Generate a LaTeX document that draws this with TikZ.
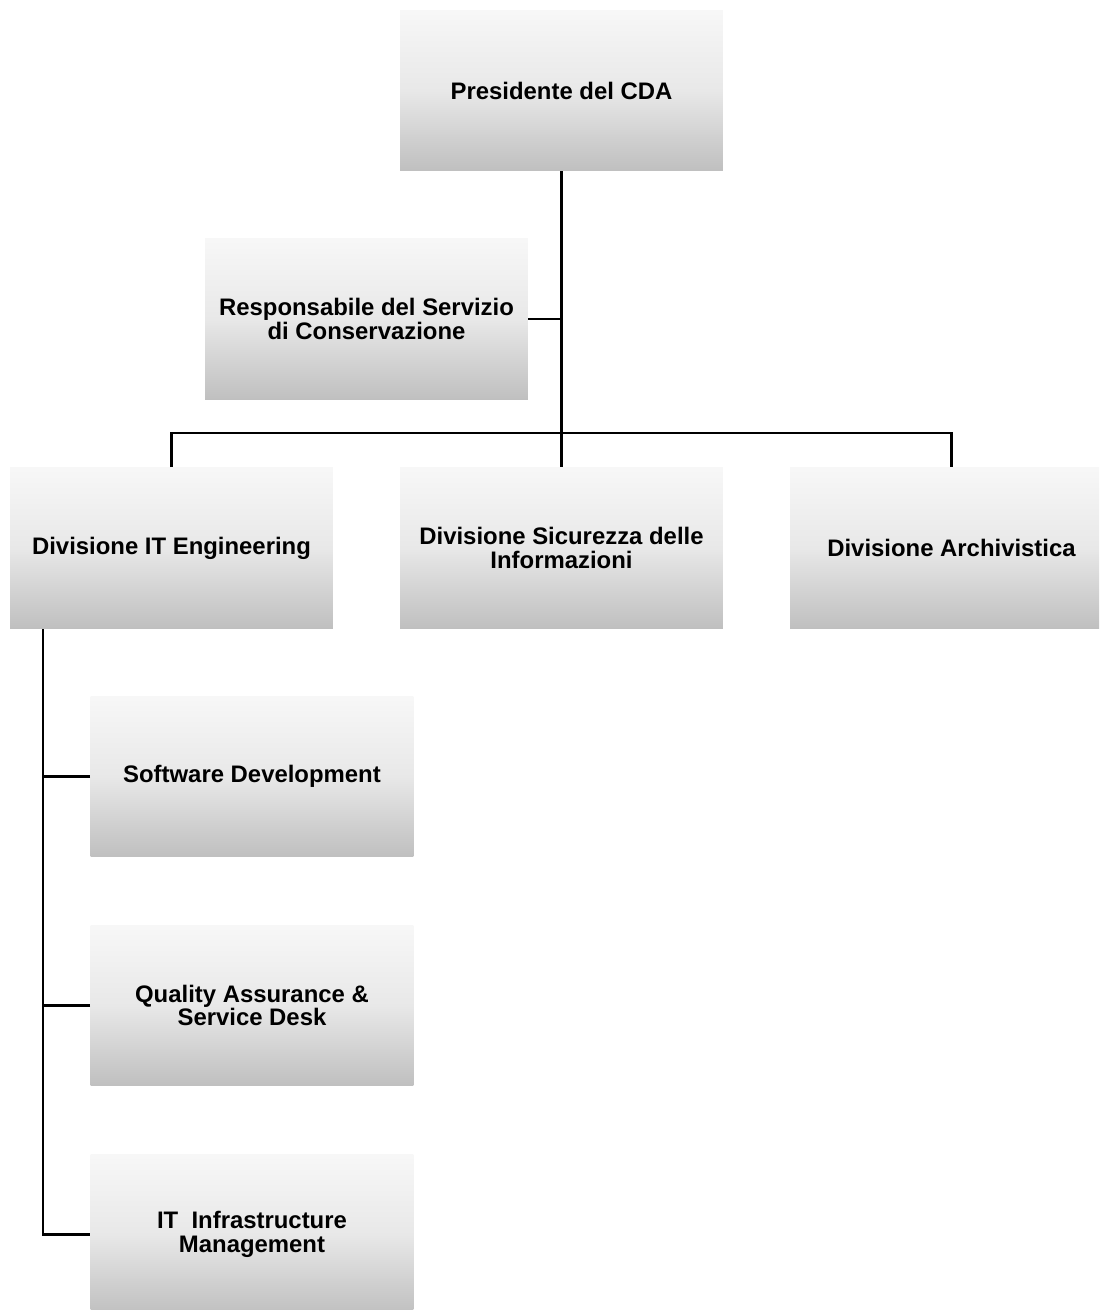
\documentclass[tikz,border=0pt]{standalone}
\usepackage{fontspec}
\setmainfont{Liberation Sans}
\usepackage{tikz}
\usetikzlibrary{positioning,calc}

\begin{document}
\begin{tikzpicture}[x=0.02cm,y=-0.02cm,
  unit box/.style={rectangle,top color=gray!6,bottom color=gray!50,middle color=gray!18,
    minimum width=6.46cm,minimum height=3.22cm,inner sep=0pt,align=center,
    font=\fontsize{13.6}{13.6}\selectfont\bfseries},
  link/.style={draw=black,line width=1.2pt}]
\useasboundingbox (0,0) rectangle (1099,1310);
\begin{scope}
\clip (0,0) rectangle (1099,1310);
% top level
\node[unit box] (pres) at (561.5,90.5) {Presidente del CDA};
\node[unit box] (resp) at (366.5,319) {Responsabile del Servizio\\di Conservazione};
% divisions
\node[unit box] (itdiv) at (171.5,548) {Divisione IT Engineering};
\node[unit box] (secdiv) at (561.5,548) {Divisione Sicurezza delle\\Informazioni};
\node[unit box] (archdiv) at (951.5,548) {Divisione Archivistica};
% IT engineering units
\node[unit box] (swdev) at (252,776.5) {Software Development};
\node[unit box] (qa) at (252,1005.5) {Quality Assurance \&\\Service Desk};
\node[unit box] (infra) at (252,1234.5) {IT~ Infrastructure\\Management};
\end{scope}
\coordinate (bus) at (561.5,433);
\coordinate (spine) at (43,629);
\draw[link] (pres.south) -- (bus);
\draw[link] (resp.east) -- (resp.east -| pres.south);
\draw[link] (itdiv.north) |- (bus) -| (archdiv.north);
\draw[link] (bus) -- (secdiv.north);
\draw[link] (spine) |- (infra.west);
\draw[link] (swdev.west) -- (swdev.west -| spine);
\draw[link] (qa.west) -- (qa.west -| spine);
\end{tikzpicture}
\end{document}
